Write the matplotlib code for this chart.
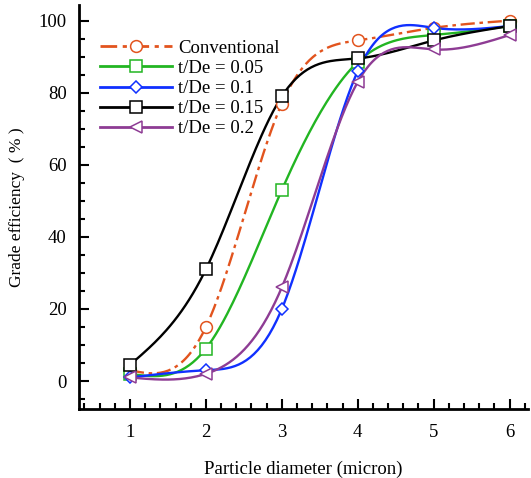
import numpy as np
import matplotlib.pyplot as plt
from matplotlib.ticker import MultipleLocator

# Data
diameter = [1, 2, 3, 4, 5, 6]
conventional = [3, 15, 77, 94.5, 98, 100]
t_de_005 = [2, 9, 53, 88.5, 96, 98.5]
t_de_01 = [1, 3, 20, 86, 98, 98.5]
t_de_015 = [4.5, 31, 79, 89.5, 94.5, 98.5]
t_de_02 = [1, 2, 26, 83, 92, 96]

labels = ['Conventional', 't/De = 0.05', 't/De = 0.1', 't/De = 0.15', 't/De = 0.2']


def spline(x, y, n=200):
    # natural cubic spline through the points, for a smooth curve
    x = np.asarray(x, float)
    y = np.asarray(y, float)
    m = len(x)
    h = np.diff(x)
    A = np.zeros((m, m))
    b = np.zeros(m)
    A[0, 0] = A[-1, -1] = 1
    for i in range(1, m - 1):
        A[i, i - 1] = h[i - 1]
        A[i, i] = 2 * (h[i - 1] + h[i])
        A[i, i + 1] = h[i]
        b[i] = 6 * ((y[i + 1] - y[i]) / h[i] - (y[i] - y[i - 1]) / h[i - 1])
    M = np.linalg.solve(A, b)
    xs = np.linspace(x[0], x[-1], n)
    idx = np.clip(np.searchsorted(x, xs) - 1, 0, m - 2)
    x0, x1 = x[idx], x[idx + 1]
    hh = x1 - x0
    ys = (M[idx] * (x1 - xs) ** 3 / (6 * hh) + M[idx + 1] * (xs - x0) ** 3 / (6 * hh)
          + (y[idx] / hh - M[idx] * hh / 6) * (x1 - xs)
          + (y[idx + 1] / hh - M[idx + 1] * hh / 6) * (xs - x0))
    return xs, ys


plt.rcParams['font.family'] = ['Liberation Serif', 'DejaVu Serif']
fig = plt.figure(figsize=(5.31, 4.78), dpi=100)
ax = fig.add_axes([0.149, 0.144, 0.845, 0.846])

series = [
    (conventional, '#e2541e', (0, (6, 2, 1.5, 2)), 'o'),
    (t_de_005, '#22b522', '-', 's'),
    (t_de_01, '#1030ff', '-', 'D'),
    (t_de_015, 'black', '-', 's'),
    (t_de_02, '#8e3c94', '-', '<'),
]

for (vals, col, ls, mk), lab in zip(series, labels):
    xs, ys = spline(diameter, vals)
    ax.plot(xs, ys, color=col, ls=ls, lw=1.7, zorder=2)
    ms = 6.5 if mk == 'D' else 8.5
    ax.plot(diameter, vals, ls='none', marker=mk, ms=ms, mfc='white',
            mec=col, mew=1.1, zorder=3)
    # legend proxy
    ax.plot([], [], color=col, ls=ls, lw=2, marker=mk, ms=ms, mfc='white',
            mec=col, mew=1.1, label=lab)

ax.set_xlim(0.33, 6.24)
ax.set_ylim(-7.8, 104.4)
ax.xaxis.set_major_locator(MultipleLocator(1))
ax.xaxis.set_minor_locator(MultipleLocator(0.2))
ax.yaxis.set_major_locator(MultipleLocator(20))
ax.yaxis.set_minor_locator(MultipleLocator(5))
ax.tick_params(which='both', direction='in', width=1.5, labelsize=13.5)
ax.tick_params(which='major', length=7)
ax.tick_params(which='minor', length=4)
ax.tick_params(axis='x', which='major', pad=11)
ax.tick_params(axis='y', which='major', pad=9)

for s in ['top', 'right']:
    ax.spines[s].set_visible(False)
for s in ['left', 'bottom']:
    ax.spines[s].set_linewidth(2)

ax.set_xlabel('Particle diameter (micron)', fontsize=13.5, labelpad=14)
ax.set_ylabel('Grade efficiency  ( % )', fontsize=12.5, labelpad=10)

ax.legend(loc='upper left', bbox_to_anchor=(0.03, 0.932), frameon=False,
          fontsize=13.5, handlelength=3.85, handletextpad=0.3, labelspacing=0.16,
          borderaxespad=0)

fig.savefig('out.png', dpi=100)
